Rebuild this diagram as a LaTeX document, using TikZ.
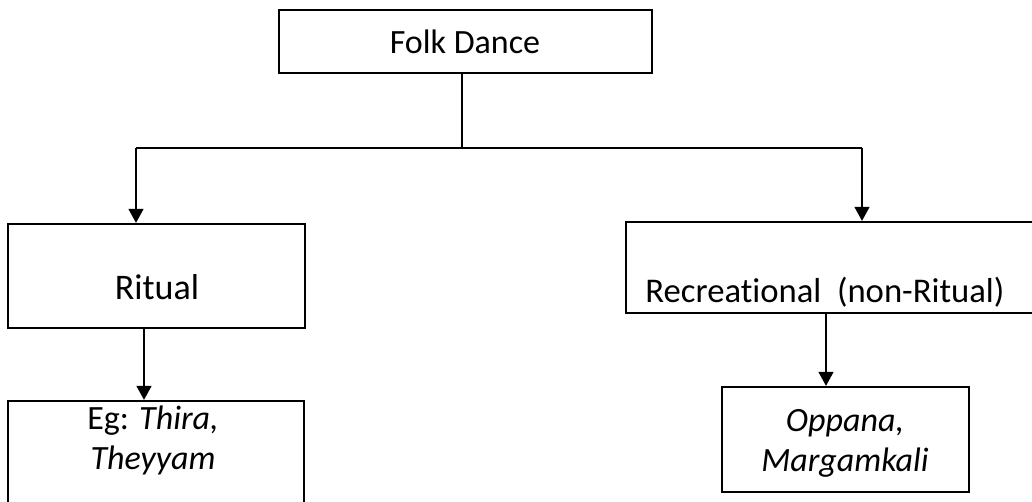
\documentclass[tikz,border=0pt]{standalone}
\usepackage{fontspec}
\setmainfont{Carlito}[Ligatures=NoCommon]
\usetikzlibrary{arrows.meta}
\def\u{0.75pt}
\tikzset{
  box/.style={draw, line width=1.6pt, inner sep=0pt, rectangle},
  conn/.style={line width=1.6pt},
  arr/.style={line width=1.6pt, -{Triangle[length=10.5pt,width=11pt]}},
  lbl/.style={inner sep=0pt, align=center, font=\fontsize{25.5pt}{30pt}\selectfont},
}
\begin{document}
\begin{tikzpicture}[x=0.75pt,y=-0.75pt]
\useasboundingbox (0,0) rectangle (1032,502);
\clip (0,0) rectangle (1032,502);
\fill[white] (0,0) rectangle (1032,502);
% boxes
\node[box, minimum width=373*\u, minimum height=63*\u] (folk) at (465.5,41.5) {};
\node[box, minimum width=297*\u, minimum height=104*\u] (ritual) at (156.5,276) {};
\node[box, minimum width=296*\u, minimum height=110*\u] (eg) at (156,456) {};
\node[box, minimum width=410*\u, minimum height=91*\u] (rec) at (831,267.5) {};
\node[box, minimum width=247*\u, minimum height=105*\u] (opp) at (845.5,439.5) {};
% texts
\node[lbl] (tfolk) at (465,42) {Folk Dance};
\node[lbl, font=\fontsize{27pt}{32pt}\selectfont] (tritual) at (157,287) {Ritual};
\node[lbl, font=\fontsize{26pt}{31pt}\selectfont] (trec) at (825,292) {Recreational\ \ (non-Ritual)};
\node[lbl] (teg) at (153,440) {Eg: \textit{Thira,}\\\textit{Theyyam}};
\node[lbl] (topp) at (845,443) {\textit{Oppana,}\\\textit{Margamkali}};
% connectors
\coordinate (j) at (462,148);
\coordinate (jl) at (136,148);
\coordinate (jr) at (862,148);
\coordinate (a1) at (144,0);
\coordinate (a2) at (826,0);
\draw[conn] (folk.south -| j) -- (j);
\draw[conn] (jl) -- (jr);
\draw[arr] (jl) -- (jl |- ritual.north);
\draw[arr] (jr) -- (jr |- rec.north);
\draw[arr] (ritual.south -| a1) -- (eg.north -| a1);
\draw[arr] (rec.south -| a2) -- (opp.north -| a2);
\end{tikzpicture}
\end{document}
